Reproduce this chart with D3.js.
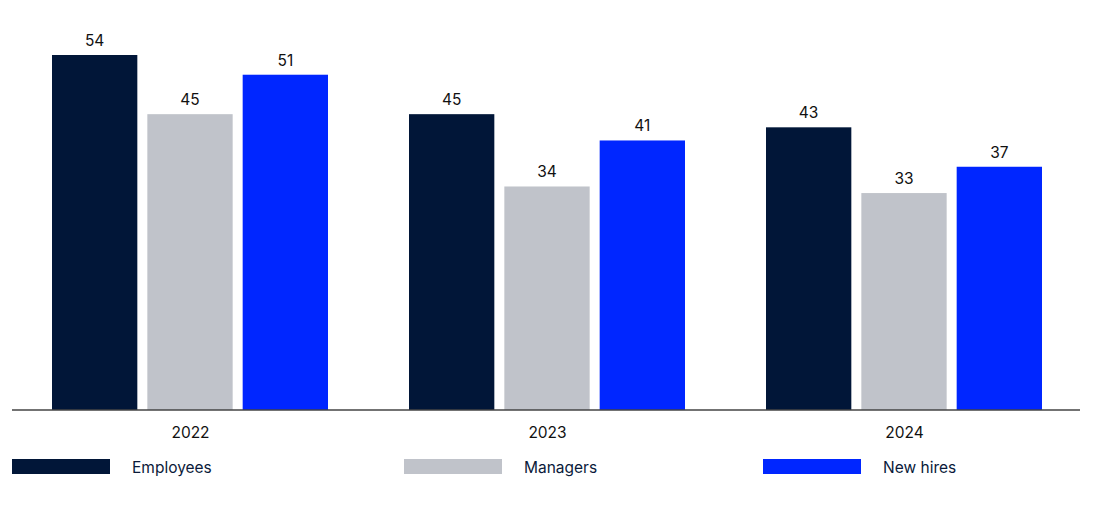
<!DOCTYPE html>
<html><head><meta charset="utf-8">
<script src="https://cdn.jsdelivr.net/npm/d3@7"></script>
<style>body{margin:0;background:#fff}svg{display:block}</style>
</head><body>
<script>
const years = ["2022","2023","2024"];
const seriesNames = ["Employees","Managers","New hires"];
const employees = [54,45,43];
const managers = [45,34,33];
const newHires = [51,41,37];
const seriesValues = [employees, managers, newHires];
const colors = ["#011638","#c0c3ca","#0026ff"];

const W=1098,H=516;
const svg=d3.select("body").append("svg").attr("width",W).attr("height",H);
const font="Inter, 'Noto Sans', sans-serif";
const x0=d3.scaleBand().domain(years).range([12,1083]).paddingInner(0).paddingOuter(0);
const x1=d3.scaleBand().domain(seriesNames).range([40,316]).paddingInner(0.105);
const y=d3.scaleLinear().domain([0,54]).range([410,55]);

const g=svg.append("g");
years.forEach((yr,i)=>{
  seriesNames.forEach((s,j)=>{
    const v=seriesValues[j][i];
    const bx=x0(yr)+x1(s);
    g.append("rect").attr("x",bx).attr("y",y(v)).attr("width",x1.bandwidth()).attr("height",y(0)-y(v)).attr("fill",colors[j]);
    g.append("text").attr("x",bx+x1.bandwidth()/2).attr("y",y(v)-9).attr("text-anchor","middle")
      .attr("font-family",font).attr("font-size",15.5).attr("fill","#111").text(v);
  });
});
const axis=d3.axisBottom(x0).tickSize(0).tickPadding(17);
const ax=svg.append("g").attr("transform","translate(0,410)").call(axis);
ax.select(".domain").attr("stroke","#444").attr("stroke-width",1.5).attr("d","M12,0H1080");
ax.selectAll("text").attr("font-family",font).attr("font-size",15.5).attr("fill","#111");

const legX=[12,404,763];
seriesNames.forEach((s,j)=>{
  svg.append("rect").attr("x",legX[j]).attr("y",459).attr("width",98).attr("height",15).attr("fill",colors[j]);
  svg.append("text").attr("x",legX[j]+120).attr("y",473).attr("font-family",font).attr("font-size",15.5).attr("fill","#0a1a3a").text(s);
});
</script>
</body></html>
